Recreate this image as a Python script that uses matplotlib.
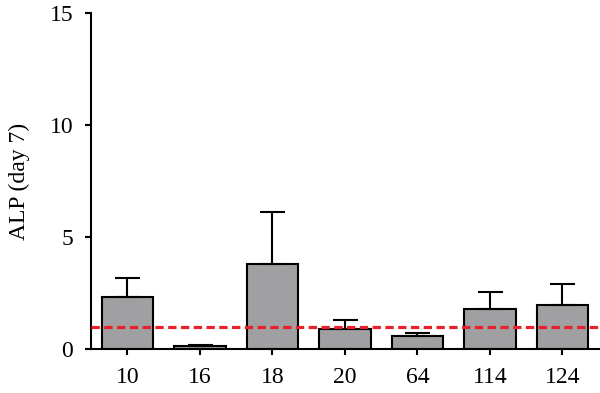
import numpy as np
from matplotlib import pyplot as plt

plt.rcParams['font.family'] = ['Liberation Serif', 'DejaVu Serif']

labels = ['10', '16', '18', '20', '64', '114', '124']
values = [2.35, 0.16, 3.79, 0.89, 0.58, 1.81, 1.98]
errors = [0.85, 0.05, 2.34, 0.42, 0.15, 0.76, 0.95]
ref_level = 1.0

fig = plt.figure(figsize=(6, 3.93), dpi=100)
ax = fig.add_axes([0.152, 0.111, 0.848, 0.856])

x = np.arange(len(labels))
lower = np.zeros(len(errors))
ax.bar(x, values, width=0.71, color='#a0a0a3', edgecolor='black', linewidth=1.5,
       yerr=[lower, errors], capsize=9,
       error_kw=dict(elinewidth=1.5, capthick=1.5, ecolor='black'), zorder=2)
ax.axhline(ref_level, color='#e8202a', linewidth=2.3, linestyle=(0, (2.6, 1.4)), zorder=3)

ax.set_xlim(-0.5, 6.52)
ax.set_ylim(0, 15)
ax.set_yticks([0, 5, 10, 15])
ax.set_xticks(x)
ax.set_xticklabels(labels)
ax.set_ylabel('ALP (day 7)', fontsize=17, labelpad=14)
ax.tick_params(labelsize=17, width=1.5, length=4, direction='out')
ax.tick_params(axis='x', pad=9)
ax.tick_params(axis='y', pad=9)
ax.spines['top'].set_visible(False)
ax.spines['right'].set_visible(False)
ax.spines['left'].set_linewidth(1.5)
ax.spines['bottom'].set_linewidth(1.5)

plt.savefig('out.png', dpi=100)
